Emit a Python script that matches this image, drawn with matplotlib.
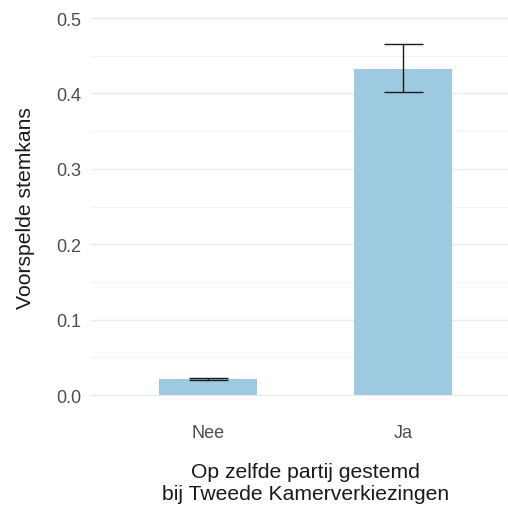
import matplotlib
matplotlib.use("Agg")
import matplotlib.pyplot as plt
from matplotlib.ticker import MultipleLocator

categories = ["Nee", "Ja"]
values = [0.021, 0.433]
lower = [0.020, 0.402]
upper = [0.023, 0.466]

plt.rcParams['font.family'] = ['Liberation Sans', 'DejaVu Sans']

W, H = 508, 510
fig = plt.figure(figsize=(W / 100, H / 100), dpi=100)
ax = fig.add_axes([91 / W, (H - 415) / H, (W - 91) / W, 414.85 / H])

x = [1, 2]
ax.bar(x, values, width=0.5, color="#9ecae1", zorder=2)
yerr = [[v - l for v, l in zip(values, lower)], [u - v for v, u in zip(values, upper)]]
ax.errorbar(x, values, yerr=yerr, fmt="none", ecolor="#1a1a1a", elinewidth=1.0,
            capsize=19.5 * 0.72, capthick=1.0, zorder=3)

ax.set_xlim(0.4, 2.538)
ax.set_ylim(-0.025, 0.525)
ax.yaxis.set_major_locator(MultipleLocator(0.1))
ax.yaxis.set_minor_locator(MultipleLocator(0.05))
ax.set_xticks(x)
ax.set_xticklabels(categories)
ax.yaxis.set_major_formatter(matplotlib.ticker.FormatStrFormatter("%.1f"))

ax.grid(True, axis="y", which="major", color="#ebebeb", linewidth=1.0, zorder=0)
ax.grid(True, axis="y", which="minor", color="#f4f4f4", linewidth=0.8, zorder=0)
ax.set_axisbelow(True)
for s in ax.spines.values():
    s.set_visible(False)
ax.tick_params(axis="both", which="both", length=0, labelsize=13, labelcolor="#4d4d4d")
ax.tick_params(axis="y", pad=7)
ax.tick_params(axis="x", pad=7)

ax.set_ylabel("Voorspelde stemkans", fontsize=15.2, color="#1a1a1a", labelpad=15)
ax.set_xlabel("Op zelfde partij gestemd\nbij Tweede Kamerverkiezingen", fontsize=15.2,
              color="#1a1a1a", labelpad=15, linespacing=1.22)
ax.xaxis.label.set_x((305.5 - 91) / (W - 91))

fig.savefig("out.png", dpi=100)
